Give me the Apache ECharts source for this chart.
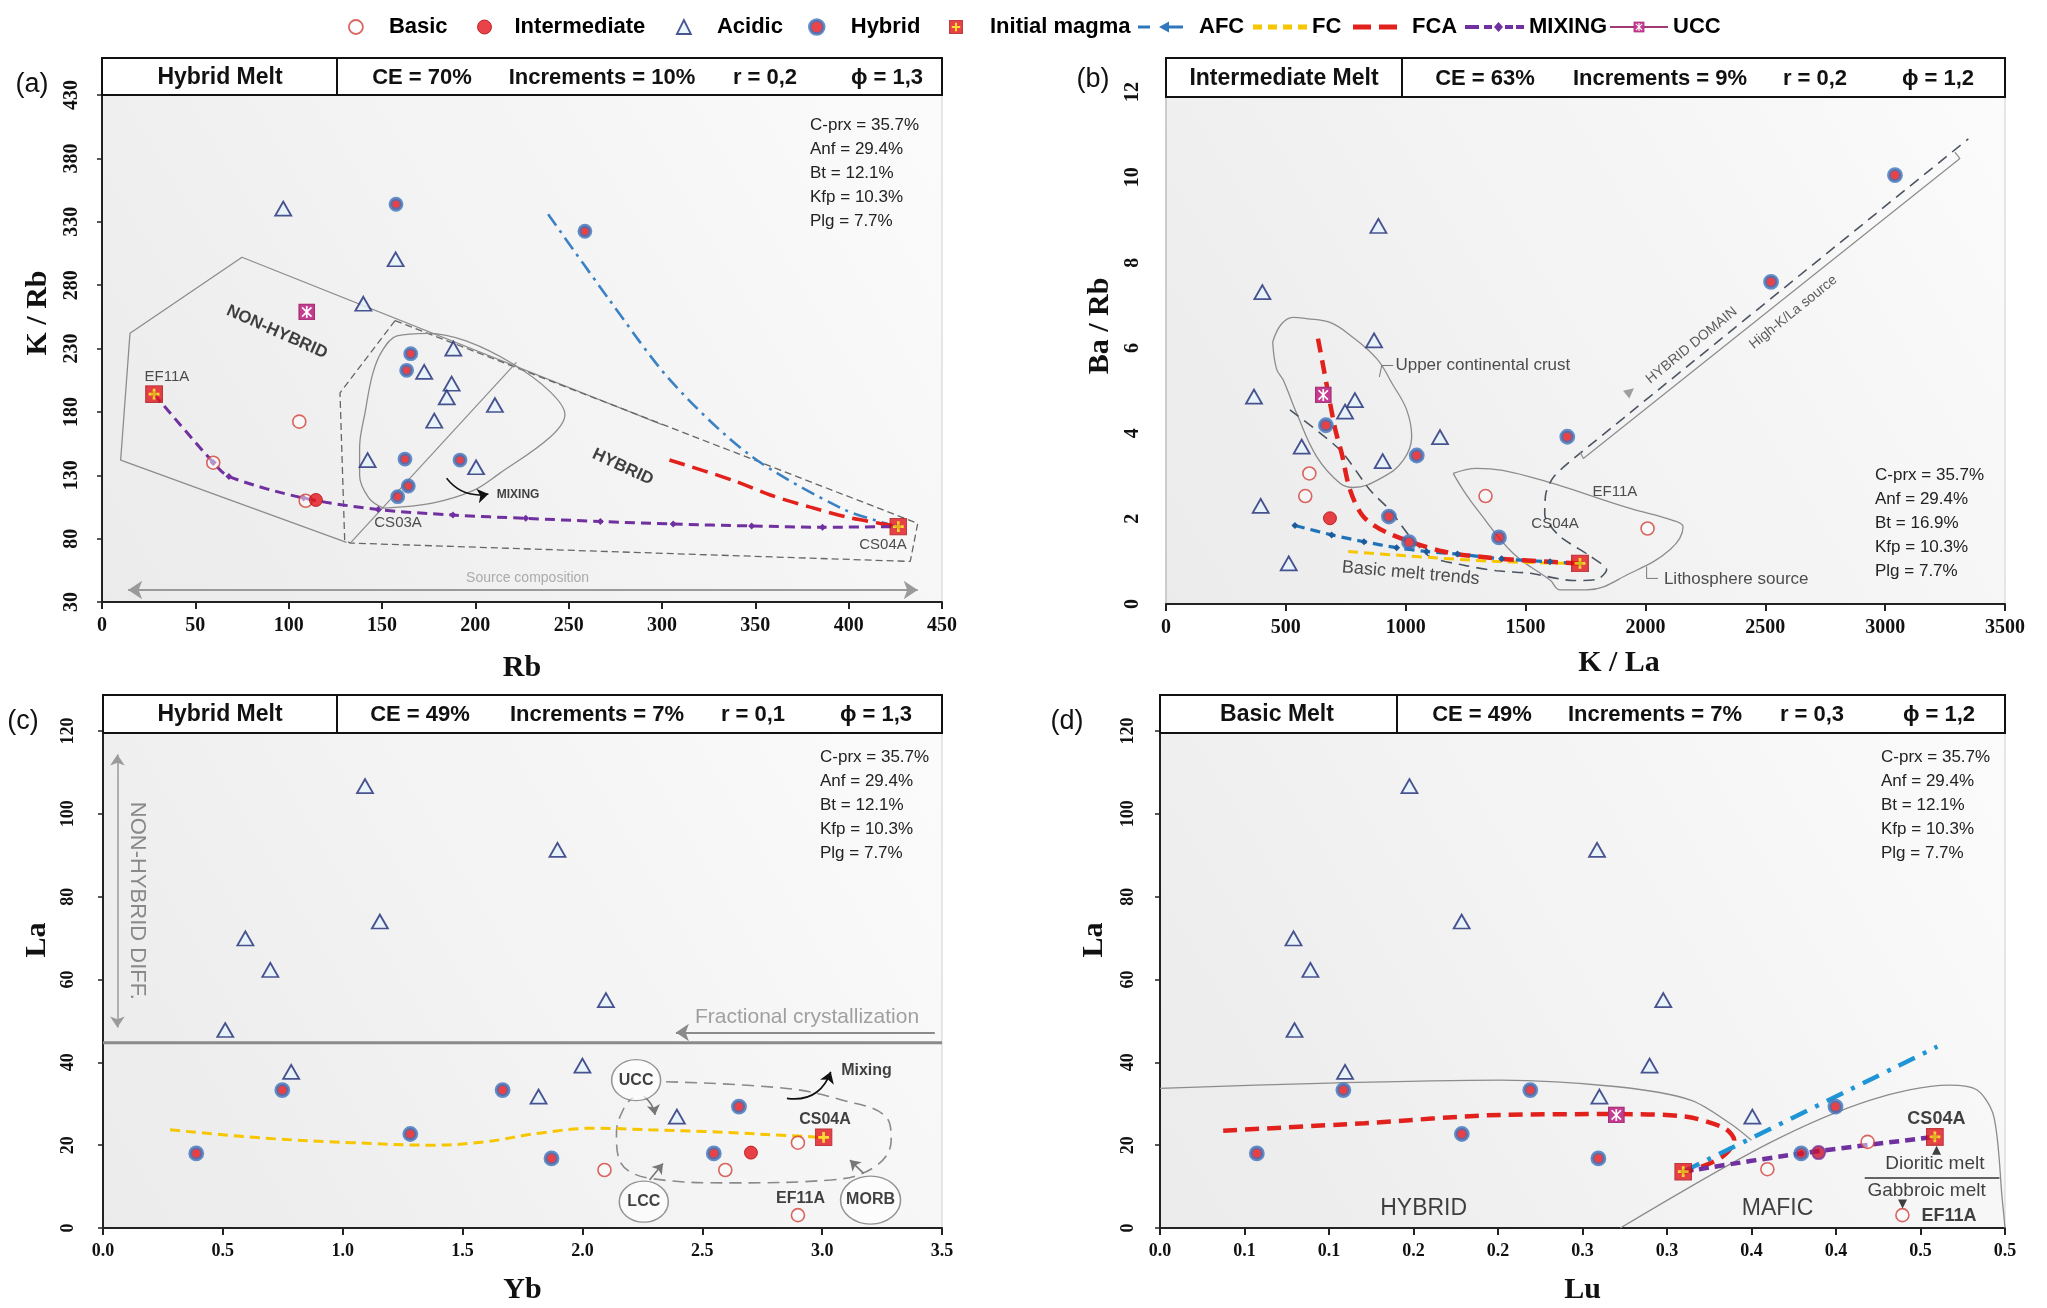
<!DOCTYPE html>
<html><head><meta charset="utf-8">
<script src="https://cdn.jsdelivr.net/npm/echarts@6/dist/echarts.min.js"></script>
<style>html,body{margin:0;padding:0;background:#fff}#c{width:2047px;height:1308px}</style>
</head><body><div id="c"></div><script>
// ================= DATA =================
// Panel (a): Rb vs K/Rb
const aBasic = [[59.6,139.9],[105.7,172.3],[109.1,109.9]];
const aIntermediate = [[114.6,110.5]];
const aAcidic = [[97.1,340.3],[157.3,300.4],[140,265.3],[188.2,229.9],[172.6,211.5],[187.3,202.2],[184.7,191.5],[178,173],[210.5,185.4],[142.3,142],[200.4,136.3]];
const aHybrid = [[157.5,343.8],[258.7,322.5],[165.4,225.9],[163.2,212.8],[162.3,142.8],[191.8,142],[164.1,121.5],[158.4,113.1]];
const aInitial = [[27.9,194],[426.6,89.5]];
const aUCC = [[109.7,258.8]];
const aAFC = [[239,336],[272,268],[305,204],[347,146],[396,104],[422,91],[426.6,89.5]];
const aFCA = [[304,142],[338,126],[358,114.4],[379,105],[399,97],[417,92],[426.6,89.5]];
const aMixing = [[27.9,194],[59.6,140],[68,129],[108,112],[148,103],[188,98.6],[227,96],[267,93.5],[306,91.5],[348,90],[386,89],[426.6,89.5]];
const aNonHybrid = [[300,170],[75,302],[15,242],[10,142],[131,77]];
const aHybridZone = [[157,252],[127.5,195],[130,79],[133,76.5],[433,62],[437,92],[157,252]];
const aOval = [[150.7,104],[143,112],[138,130],[138,152],[141,180],[145,210],[150,228],[158,240],[175,242],[195,236],[220,218],[240,196],[248,178],[240,160],[213,131.5],[199,118],[177,108],[150.7,104]];
const aOvalChord = [[133,76.5],[222,219]];
const aSourceArrow = [[14,39.5],[437,39.5]];
const aMixingArrow = [[184.6,127.6],[207,115.2]];
const aNotes = [['EF11A',34.8,207.5,'small'],['CS03A',158.6,92.3,'small'],['CS04A',418.4,75,'small'],['NON-HYBRID',93.7,243,'nonhybrid'],['HYBRID',279,136.5,'hybrid'],['MIXING',222.9,114.4,'tiny'],['Source composition',228,49,'source']];

// Panel (b): K/La vs Ba/Rb
const bBasic = [[598,3.06],[581,2.53],[1333,2.53],[2009,1.77]];
const bIntermediate = [[684,2.01]];
const bAcidic = [[367,4.86],[788,4.78],[747,4.51],[566,3.69],[1143,3.91],[904,3.35],[395,2.30],[512,0.95],[886,8.86],[402,7.31],[868,6.18]];
const bHybrid = [[667,4.19],[1046,3.48],[930,2.05],[1014,1.45],[1389,1.56],[1674,3.92],[2524,7.55],[3041,10.05]];
const bInitial = [[1727,0.95]];
const bUCC = [[656,4.90]];
const bAFC = [[538,1.84],[691,1.62],[826,1.46],[962,1.32],[1087,1.23],[1216,1.17],[1400,1.06],[1602,0.99],[1727,0.95]];
const bFC = [[760,1.23],[1000,1.13],[1365,1.0],[1727,0.95]];
const bFCA = [[634,6.22],[655,5.6],[705,4.12],[733,3.53],[768,2.67],[823,2.05],[927,1.66],[1157,1.23],[1379,1.07],[1602,0.99],[1727,0.95]];
const bUCCEnv = [[445,6.14],[480,6.55],[530,6.72],[587,6.69],[684,6.6],[768,6.3],[879,5.75],[945,5.15],[1004,4.55],[1025,3.92],[990,3.37],[907,2.98],[781,2.73],[726,2.83],[629,3.45],[545,4.47],[489,5.25],[461,5.51],[445,6.14]];
const bLithoEnv = [[1198,3.06],[1296,3.18],[1518,2.98],[1936,2.24],[2120,1.95],[2157,1.81],[2102,1.27],[1936,0.72],[1755,0.33],[1644,0.33],[1602,0.56],[1448,1.19],[1300,2.2],[1240,2.67],[1198,3.06]];
const bHybridTrend = [[517,4.55],[726,3.61],[851,2.67],[934,2.2],[1018,1.58],[1101,1.11],[1250,0.9],[1379,0.78],[1518,0.72],[1700,0.55],[1800,0.58],[1838,0.8],[1770,1.12],[1640,1.6],[1580,2.1],[1585,2.6],[1620,3.0],[1727,3.53],[3347,10.9]];
const bBracket = [[1727,3.57],[1741,3.41],[3312,10.44],[3291,10.59]];
const bUCCLeader = [[890,5.32],[900,5.59],[948,5.59]];
const bLithoLeader = [[2005,0.875],[2005,0.6],[2052,0.6]];
const bDomainArrow = [[1936,4.98]];
const bNotes = [['Upper continental crust',955,5.59,'leftLabel'],['Basic melt trends',1021,0.72,'basicTrend'],['Lithosphere source',2075,0.58,'leftLabel'],['EF11A',1873,2.63,'small'],['CS04A',1623,1.89,'small'],['HYBRID DOMAIN',2193,6.06,'diag'],['High-K/La source',2617,6.84,'diag']];

// Panel (c): Yb vs La
const cBasic = [[2.092,14.0],[2.596,14.0],[2.899,20.6],[2.899,3.1]];
const cIntermediate = [[2.703,18.2]];
const cAcidic = [[1.093,106.7],[1.896,91.3],[1.155,74.0],[0.594,69.9],[0.698,62.3],[2.098,55.0],[0.510,47.8],[0.785,37.7],[1.817,31.7],[2.0,39.2],[2.394,26.9]];
const cHybrid = [[0.389,18.0],[0.748,33.3],[1.282,22.7],[1.667,33.3],[1.871,16.8],[2.548,18.0],[2.653,29.3]];
const cInitial = [[3.006,21.9]];
const cFC = [[0.28,23.7],[0.675,21.7],[1.04,20.6],[1.363,20.0],[1.592,20.8],[1.82,22.9],[2.05,24.1],[2.28,23.7],[2.51,23.3],[2.967,22.0],[3.006,21.9]];
const cMixEnv = [[2.349,35.3],[2.853,33.7],[3.082,30.9],[3.265,26.9],[3.288,21.2],[3.22,14.8],[3.036,11.6],[2.624,10.9],[2.28,12.0],[2.154,16.4],[2.142,22.9],[2.176,29.3],[2.21,31.5]];
const cHLine = [[0,44.7],[3.5,44.7]];
const cFracArrow = [[3.47,47.2],[2.39,47.2]];
const cNHArrow = [[0.06,114.3],[0.06,48.4]];
const cUCCArrow = [[2.257,31.7],[2.303,27.3]];
const cLCCArrow = [[2.28,11.6],[2.336,15.6]];
const cMORBArrow = [[3.173,13.2],[3.116,16.4]];
const cMixingArrow = [[2.853,31.3],[3.036,37.7]];
const cReservoirs = [['UCC',2.224,35.7],['LCC',2.256,6.35],['MORB',3.202,6.76]];
const cYbTickLabels = ['0.0','0.5','1.0','1.5','2.0','2.5','3.0','3.5'];
const cNotes = [['Fractional crystallization',2.937,51.0,'frac'],['NON-HYBRID DIFF.',0.142,79,'nhdiff'],['Mixing',3.185,38.1,'boldc'],['CS04A',3.012,26.1,'boldc'],['EF11A',2.91,7.2,'boldc']];

// Panel (d): Lu vs La
const dBasic = [[0.3594,14.2],[0.4187,20.8],[0.4393,3.1]];
const dIntermediate = [[0.3897,18.2]];
const dAcidic = [[0.1476,106.7],[0.2586,91.3],[0.1785,74.0],[0.079,69.9],[0.089,62.3],[0.2978,55.0],[0.0796,47.8],[0.1095,37.7],[0.26,31.7],[0.2897,39.2],[0.3505,26.9]];
const dHybrid = [[0.0573,18.0],[0.1085,33.3],[0.1786,22.7],[0.2191,33.3],[0.2594,16.8],[0.3794,18.0],[0.3997,29.3]];
const dInitial = [[0.3096,13.6],[0.4585,22.0]];
const dUCC = [[0.270,27.3]];
const dFCA = [[0.0374,23.5],[0.121,25.3],[0.201,27.3],[0.270,27.5],[0.3106,26.9],[0.334,24.1],[0.3398,21.2],[0.334,17.6],[0.3206,14.8],[0.3096,13.6]];
const dAFC = [[0.3096,13.6],[0.46,43.8]];
const dMixing = [[0.3096,13.6],[0.3794,18.0],[0.4585,22.0]];
const dHybridBound = [[0,33.7],[0.1,35],[0.201,35.7],[0.2707,34.1],[0.314,30.9],[0.3372,25.3],[0.35,21.2]];
const dMaficBound = [[0.2724,0],[0.3604,20.5],[0.4203,30.9],[0.4668,34.5],[0.4835,33.3],[0.4934,26.9],[0.4984,6.8],[0.5,0]];
const dMeltLine = [[0.417,12.1],[0.4967,12.1]];
const dUpMark = [[0.4595,18.8]];
const dDownMark = [[0.4394,5.8]];
const dLuTickLabels = ['0.0','0.1','0.1','0.2','0.2','0.3','0.3','0.4','0.4','0.5','0.5'];
const dNotes = [['HYBRID',0.156,4.76,'region'],['MAFIC',0.3654,4.76,'region'],['CS04A',0.4594,26.2,'boldd'],['Dioritic melt',0.4585,15.5,'melt'],['Gabbroic melt',0.4536,9.0,'melt'],['EF11A',0.4668,2.9,'boldd']];

const minA = ['C-prx = 35.7%','Anf = 29.4%','Bt = 12.1%','Kfp = 10.3%','Plg = 7.7%'];
const minB = ['C-prx = 35.7%','Anf = 29.4%','Bt = 16.9%','Kfp = 10.3%','Plg = 7.7%'];
const minC = ['C-prx = 35.7%','Anf = 29.4%','Bt = 12.1%','Kfp = 10.3%','Plg = 7.7%'];
const minD = ['C-prx = 35.7%','Anf = 29.4%','Bt = 12.1%','Kfp = 10.3%','Plg = 7.7%'];

// ================= STYLE / LAYOUT =================
const SERIF = '"Liberation Serif","Times New Roman",serif';
const SANS = '"Liberation Sans",Arial,sans-serif';

function svgUrl(s){ return 'image://data:image/svg+xml;charset=utf-8,' + encodeURIComponent(s); }
const MAGMA_ICON = svgUrl('<svg xmlns="http://www.w3.org/2000/svg" width="40" height="40" viewBox="0 0 40 40"><rect x="1.5" y="1.5" width="37" height="37" fill="#e3141b" stroke="#b30d12" stroke-width="3"/><path d="M20 8V32M8 20H32" stroke="#ffd400" stroke-width="6"/></svg>');
const UCC_ICON = svgUrl('<svg xmlns="http://www.w3.org/2000/svg" width="40" height="40" viewBox="0 0 40 40"><rect x="1.5" y="1.5" width="37" height="37" fill="#c63a91" stroke="#a0306f" stroke-width="3"/><path d="M9 9L31 31M31 9L9 31M20 6V34" stroke="#fff" stroke-width="4"/></svg>');
const ELLIPSE = 'path://M0,50A50,50,0,1,1,100,50A50,50,0,1,1,0,50Z';

const G = [
  {left:102, top:95, width:840, height:507},
  {left:1166, top:92, width:839, height:512},
  {left:103, top:731, width:839, height:497},
  {left:1160, top:731, width:845, height:497}
];
const BG = {type:'linear', x:0, y:1, x2:1, y2:0, colorStops:[{offset:0,color:'#ebebeb'},{offset:1,color:'#fbfbfb'}]};

const MARK = {
  'Basic': {symbol:'circle', symbolSize:13, itemStyle:{color:'rgba(255,255,255,0.6)', borderColor:'#d23f37', borderWidth:1.6}},
  'Intermediate': {symbol:'circle', symbolSize:13, itemStyle:{color:'#e3131b', borderColor:'#b10d12', borderWidth:1}},
  'Acidic': {symbol:'triangle', symbolSize:[16,14], itemStyle:{color:'#e6f3fb', borderColor:'#1d2a76', borderWidth:1.8}},
  'Hybrid': {symbol:'circle', symbolSize:11, itemStyle:{color:'#e3151d', borderColor:'#3d74bd', borderWidth:3.8}},
  'Initial magma': {symbol:MAGMA_ICON, symbolSize:18}
};
const TREND = {
  'AFC': {symbol:'diamond', showSymbol:false, symbolSize:7, itemStyle:{color:'#2f78bd'}, lineStyle:{color:'#3b82c4', width:2.6, type:[14,6,3,6]}},
  'FC': {symbol:'none', itemStyle:{color:'#f6c700'}, lineStyle:{color:'#f6c700', width:3, type:[10,6]}},
  'FCA': {symbol:'none', itemStyle:{color:'#e2211c'}, lineStyle:{color:'#e2211c', width:3.5, type:[16,8]}},
  'MIXING': {symbol:'diamond', symbolSize:7, showSymbol:true, itemStyle:{color:'#7030a0'}, lineStyle:{color:'#7030a0', width:3, type:[10,6]}}
};
const NOTE_STYLE = {
  small: {fontSize:15, color:'#222'},
  nonhybrid: {fontSize:17, fontWeight:'bold', rotate:-24, color:'#111'},
  hybrid: {fontSize:17, fontWeight:'bold', rotate:-25, color:'#111'},
  tiny: {fontSize:12, fontWeight:'bold', color:'#111'},
  source: {fontSize:14, color:'#999'},
  leftLabel: {fontSize:17, color:'#222', position:'right', distance:0},
  basicTrend: {fontSize:18, color:'#222', rotate:-5},
  diag: {fontSize:14, color:'#333', rotate:39},
  frac: {fontSize:21, color:'#8a8a8a'},
  nhdiff: {fontSize:22, color:'#6f6f6f', rotate:-90},
  boldc: {fontSize:16, fontWeight:'bold', color:'#111'},
  boldd: {fontSize:18, fontWeight:'bold', color:'#111'},
  region: {fontSize:23, color:'#111'},
  melt: {fontSize:19, color:'#111'}
};

// ================= BUILDERS =================
function pts(name, g, data, extra) {
  return Object.assign({name, type:'scatter', xAxisIndex:g, yAxisIndex:g, data, z:5, silent:true}, MARK[name], extra||{});
}
function trend(name, g, data, extra) {
  const base = JSON.parse(JSON.stringify(TREND[name]));
  const s = Object.assign({name, type:'line', xAxisIndex:g, yAxisIndex:g, data, smooth:0.3, z:4, silent:true}, base);
  if (extra) { for (const k in extra) { s[k] = (typeof extra[k]==='object' && !Array.isArray(extra[k]) && s[k]) ? Object.assign({}, s[k], extra[k]) : extra[k]; } }
  return s;
}
function ucc(g, data) {
  return {name:'UCC', type:'line', xAxisIndex:g, yAxisIndex:g, data, symbol:UCC_ICON, symbolSize:17, showSymbol:true, itemStyle:{color:'#a13b78'}, lineStyle:{color:'#a13b78', width:2}, z:6, silent:true};
}
function shape(g, data, style, smooth) {
  return {type:'line', xAxisIndex:g, yAxisIndex:g, data, symbol:'none', silent:true, smooth:smooth||false, lineStyle:style, z:2};
}
function arrow(g, coords, style, both, size, curve) {
  return {type:'lines', coordinateSystem:'cartesian2d', xAxisIndex:g, yAxisIndex:g, polyline:false,
    symbol: both ? ['arrow','arrow'] : ['none','arrow'], symbolSize:size||10,
    lineStyle:Object.assign({opacity:1, curveness:curve||0}, style), data:[{coords}], silent:true, z:3};
}
function notes(g, list) {
  return {type:'scatter', xAxisIndex:g, yAxisIndex:g, symbol:'circle', symbolSize:1, itemStyle:{color:'rgba(0,0,0,0)'}, silent:true, z:7,
    label:{show:true, position:'inside', formatter:'{b}', color:'#222', fontFamily:SANS, fontSize:14},
    data: list.map(n => ({name:n[0], value:[n[1], n[2]], label:Object.assign({}, NOTE_STYLE[n[3]])}))};
}
function marks(g, data, color, size, rot) {
  return {type:'scatter', xAxisIndex:g, yAxisIndex:g, data, symbol:'triangle', symbolSize:size, symbolRotate:rot||0, itemStyle:{color}, silent:true, z:6};
}

function xAx(g, min, max, interval, name, fmt, nameGap, pad, fs) {
  return {type:'value', gridIndex:g, min, max, interval, name, nameLocation:'middle', nameGap, nameMoveOverlap:false,
    nameTextStyle:{fontFamily:SERIF, fontWeight:'bold', fontSize:30, color:'#111', padding:pad},
    axisLine:{show:true, onZero:false, lineStyle:{color:'#222', width:2}},
    axisTick:{show:true, inside:false, length:7, lineStyle:{color:'#222', width:2}},
    axisLabel:{show:true, margin:14, hideOverlap:false, fontFamily:SERIF, fontWeight:'bold', fontSize:fs, color:'#111', formatter:fmt},
    splitLine:{show:false}};
}
function yAx(g, min, max, interval, name, nameGap, pad, fs, margin, light) {
  return {type:'value', gridIndex:g, min, max, interval, name, nameLocation:'middle', nameGap, nameMoveOverlap:false,
    nameTextStyle:{fontFamily:SERIF, fontWeight:'bold', fontSize:30, color:'#111', padding:pad},
    axisLine:{show:true, onZero:false, lineStyle:{color: light ? '#c4c4c4' : '#222', width: light ? 1.5 : 2}},
    axisTick:{show:!light, inside:false, length:5, lineStyle:{color:'#222', width:1.5}},
    axisLabel:{show:true, rotate:90, margin, hideOverlap:false, fontFamily:SERIF, fontWeight:'bold', fontSize:fs, color:'#111', formatter: v => String(v)},
    splitLine:{show:false}};
}

// ================= SERIES =================
const S = [];
// (a)
S.push(shape(0, aNonHybrid, {color:'#8c8c8c', width:1.3}));
S.push(shape(0, aHybridZone, {color:'#666', width:1.3, type:[7,4]}));
S.push(shape(0, aOval, {color:'#8c8c8c', width:1.3}, 0.35));
S.push(shape(0, aOvalChord, {color:'#8c8c8c', width:1.2}));
S.push(arrow(0, aSourceArrow, {color:'#9a9a9a', width:2}, true, 14));
S.push(arrow(0, aMixingArrow, {color:'#111', width:1.5}, false, 11, -0.3));
S.push(trend('AFC', 0, aAFC));
S.push(trend('FCA', 0, aFCA));
S.push(trend('MIXING', 0, aMixing));
S.push(pts('Basic', 0, aBasic));
S.push(pts('Intermediate', 0, aIntermediate));
S.push(pts('Acidic', 0, aAcidic));
S.push(pts('Hybrid', 0, aHybrid));
S.push(pts('Initial magma', 0, aInitial));
S.push(ucc(0, aUCC));
S.push(notes(0, aNotes));
// (b)
S.push(shape(1, bUCCEnv, {color:'#8c8c8c', width:1.3}, 0.4));
S.push(shape(1, bLithoEnv, {color:'#8c8c8c', width:1.3}, 0.4));
S.push(shape(1, bHybridTrend, {color:'#4b5561', width:1.6, type:[11,7]}, 0.25));
S.push(shape(1, bBracket, {color:'#8c8c8c', width:1.2}));
S.push(shape(1, bUCCLeader, {color:'#777', width:1}));
S.push(shape(1, bLithoLeader, {color:'#777', width:1}));
S.push(marks(1, bDomainArrow, '#888', [10,10], -51));
S.push(trend('FC', 1, bFC));
S.push(trend('AFC', 1, bAFC, {showSymbol:true, itemStyle:{color:'#1c5a9a'}, lineStyle:{color:'#1f73b8', width:3.2, type:[10,6]}}));
S.push(trend('FCA', 1, bFCA, {lineStyle:{width:4.5, type:[14,8]}}));
S.push(pts('Basic', 1, bBasic));
S.push(pts('Intermediate', 1, bIntermediate));
S.push(pts('Acidic', 1, bAcidic));
S.push(pts('Hybrid', 1, bHybrid, {symbolSize:12}));
S.push(pts('Initial magma', 1, bInitial));
S.push(ucc(1, bUCC));
S.push(notes(1, bNotes));
// (c)
S.push(shape(2, cHLine, {color:'#8a8a8a', width:3}));
S.push(shape(2, cMixEnv, {color:'#8a8a8a', width:1.6, type:[12,7]}, 0.4));
S.push(arrow(2, cFracArrow, {color:'#8a8a8a', width:2}, false, 13));
S.push(arrow(2, cNHArrow, {color:'#9a9a9a', width:1.5}, true, 11));
S.push(arrow(2, cUCCArrow, {color:'#777', width:1.6}, false, 10, 0.2));
S.push(arrow(2, cLCCArrow, {color:'#777', width:1.6}, false, 10));
S.push(arrow(2, cMORBArrow, {color:'#777', width:1.6}, false, 10));
S.push(arrow(2, cMixingArrow, {color:'#111', width:1.6}, false, 11, -0.4));
S.push({type:'scatter', xAxisIndex:2, yAxisIndex:2, symbol:ELLIPSE, silent:true, z:5,
  itemStyle:{color:'rgba(255,255,255,0.85)', borderColor:'#7a7a7a', borderWidth:1.4},
  label:{show:true, position:'inside', formatter:'{b}', fontFamily:SANS, fontWeight:'bold', fontSize:16, color:'#111'},
  data: cReservoirs.map((r,i) => ({name:r[0], value:[r[1], r[2]], symbolSize: i===2 ? [60,48] : [49,41]}))});
S.push(trend('FC', 2, cFC, {smooth:0.4}));
S.push(pts('Basic', 2, cBasic));
S.push(pts('Intermediate', 2, cIntermediate));
S.push(pts('Acidic', 2, cAcidic));
S.push(pts('Hybrid', 2, cHybrid, {symbolSize:12}));
S.push(pts('Initial magma', 2, cInitial));
S.push(notes(2, cNotes));
// (d)
S.push(shape(3, dHybridBound, {color:'#8c8c8c', width:1.3}, 0.3));
S.push(shape(3, dMaficBound, {color:'#8c8c8c', width:1.3}, 0.3));
S.push(shape(3, dMeltLine, {color:'#333', width:1.5}));
S.push(trend('FCA', 3, dFCA, {lineStyle:{width:4.5, type:[14,8]}}));
S.push(trend('AFC', 3, dAFC, {lineStyle:{color:'#1f95d6', width:4.5, type:[18,9,4,9]}}));
S.push(trend('MIXING', 3, dMixing, {lineStyle:{width:4.5}}));
S.push(marks(3, dUpMark, '#111', [9,9], 0));
S.push(marks(3, dDownMark, '#111', [9,9], 180));
S.push(pts('Basic', 3, dBasic));
S.push(pts('Intermediate', 3, dIntermediate, {itemStyle:{color:'#c8102e', borderColor:'#7a3a9a', borderWidth:2}}));
S.push(pts('Acidic', 3, dAcidic));
S.push(pts('Hybrid', 3, dHybrid, {symbolSize:12}));
S.push(pts('Initial magma', 3, dInitial));
S.push(ucc(3, dUCC));
S.push(notes(3, dNotes));

// ================= GRAPHIC (headers, texts) =================
function txt(text, x, y, font, fill, align, va) {
  return {type:'text', x, y, z:102, silent:true, style:{text, font, fill, textAlign:align, align, textVerticalAlign:va||'middle', verticalAlign:va||'middle'}};
}
const HEADERS = [
  {x0:102, x1:942, y0:58, y1:95, div:337, title:'Hybrid Melt', tx:220, items:[['CE = 70%',422],['Increments = 10%',602],['r = 0,2',765],['ϕ = 1,3',887]]},
  {x0:1166, x1:2005, y0:58, y1:97, div:1402, title:'Intermediate Melt', tx:1284, items:[['CE = 63%',1485],['Increments = 9%',1660],['r = 0,2',1815],['ϕ = 1,2',1938]]},
  {x0:103, x1:942, y0:695, y1:733, div:337, title:'Hybrid Melt', tx:220, items:[['CE = 49%',420],['Increments = 7%',597],['r = 0,1',753],['ϕ = 1,3',876]]},
  {x0:1160, x1:2005, y0:695, y1:733, div:1397, title:'Basic Melt', tx:1277, items:[['CE = 49%',1482],['Increments = 7%',1655],['r = 0,3',1812],['ϕ = 1,2',1939]]}
];
const GR = [];
HEADERS.forEach(h => {
  GR.push({type:'rect', z:100, silent:true, shape:{x:h.x0, y:h.y0, width:h.x1-h.x0, height:h.y1-h.y0}, style:{fill:'#fff', stroke:'#111', lineWidth:2}});
  GR.push({type:'line', z:101, silent:true, shape:{x1:h.div, y1:h.y0, x2:h.div, y2:h.y1}, style:{stroke:'#111', lineWidth:2}});
  const cy = (h.y0 + h.y1) / 2 + 1;
  GR.push(txt(h.title, h.tx, cy, 'bold 23px ' + SANS, '#111', 'center'));
  h.items.forEach(it => GR.push(txt(it[0], it[1], cy, 'bold 22px ' + SANS, '#111', 'center')));
});
[[minA,810,125],[minB,1875,475],[minC,820,757],[minD,1881,757]].forEach(([lines,x,y]) => {
  lines.forEach((l,i) => GR.push(txt(l, x, y + i*24.2, '17px ' + SANS, '#222', 'left')));
});
[['(a)',32,85],['(b)',1093,80],['(c)',23,722],['(d)',1067,722]].forEach(([t,x,y]) => GR.push(txt(t, x, y, '27px ' + SANS, '#111', 'center')));

// ================= LEGEND =================
const ICONS = {
  'AFC': 'path://M0,5.5h12v3H0Z M21,7L31,1.5V12.5Z M30,5.5h15v3H30Z',
  'FC': 'path://M0,4.5h9v5H0Z M15,4.5h9v5H15Z M30,4.5h9v5H30Z M45,4.5h9v5H45Z',
  'FCA': 'path://M0,4.5h18v5H0Z M26,4.5h18v5H26Z',
  'MIXING': 'path://M0,5h14v4H0Z M19,5h8v4H19Z M29,7L33.5,2L38,7L33.5,12Z M40,5h8v4H40Z M51,5h8v4H51Z'
};
// [name, icon left, icon width, text padding, border width]
const LEGEND_LAYOUT = [['Basic',348,14,21,1.8],['Intermediate',477,14,18,1],['Acidic',676,14,21,1.8],['Hybrid',808,14,22,3.5],['Initial magma',949,14,22,0],
  ['AFC',1138,45,11,0],['FC',1253,54,0,0],['FCA',1353,44,10,0],['MIXING',1465,59,0,0],['UCC',1609,58,0,0]];
const legends = LEGEND_LAYOUT.map(([n,l,w,p,bw]) => {
  const lg = {data:[n], left:l, top:16, itemWidth:w, itemHeight:14, itemGap:0, selectedMode:false, padding:0,
    textStyle:{fontFamily:SANS, fontWeight:'bold', fontSize:22, color:'#000', padding:[0,0,0,p]},
    itemStyle: bw ? {borderWidth:bw} : {borderWidth:0}};
  if (ICONS[n]) lg.icon = ICONS[n];
  return lg;
});

const option = {
  animation:false,
  backgroundColor:'#fff',
  textStyle:{fontFamily:SANS},
  legend: legends,
  grid: G.map(g => ({left:g.left, top:g.top, width:g.width, height:g.height, show:true, backgroundColor:BG, borderColor:'#cfcfcf', borderWidth:1, containLabel:false, outerBoundsMode:'none'})),
  xAxis: [
    xAx(0, 0, 450, 50, 'Rb', v => String(v), 51, [0,0,0,0], 20),
    xAx(1, 0, 3500, 500, 'K / La', v => String(v), 44, [0,0,0,67], 20),
    xAx(2, 0, 3.5, 0.5, 'Yb', v => cYbTickLabels[Math.round(v/0.5)], 47, [0,0,0,0], 18),
    xAx(3, 0, 0.5, 0.05, 'Lu', v => dLuTickLabels[Math.round(v/0.05)], 47, [0,0,0,0], 18)
  ],
  yAxis: [
    yAx(0, 30, 430, 50, 'K / Rb', 49, [0,0,0,71], 20, 20, false),
    yAx(1, 0, 12, 2, 'Ba / Rb', 51, [0,0,0,44], 20, 23, true),
    yAx(2, 0, 120, 20, 'La', 51, [0,0,0,79], 18, 26, false),
    yAx(3, 0, 120, 20, 'La', 51, [0,0,0,79], 18, 23, false)
  ],
  series: S,
  graphic: GR
};
const chart = echarts.init(document.getElementById('c'), null, {renderer:'canvas'});
chart.setOption(option);
</script></body></html>
